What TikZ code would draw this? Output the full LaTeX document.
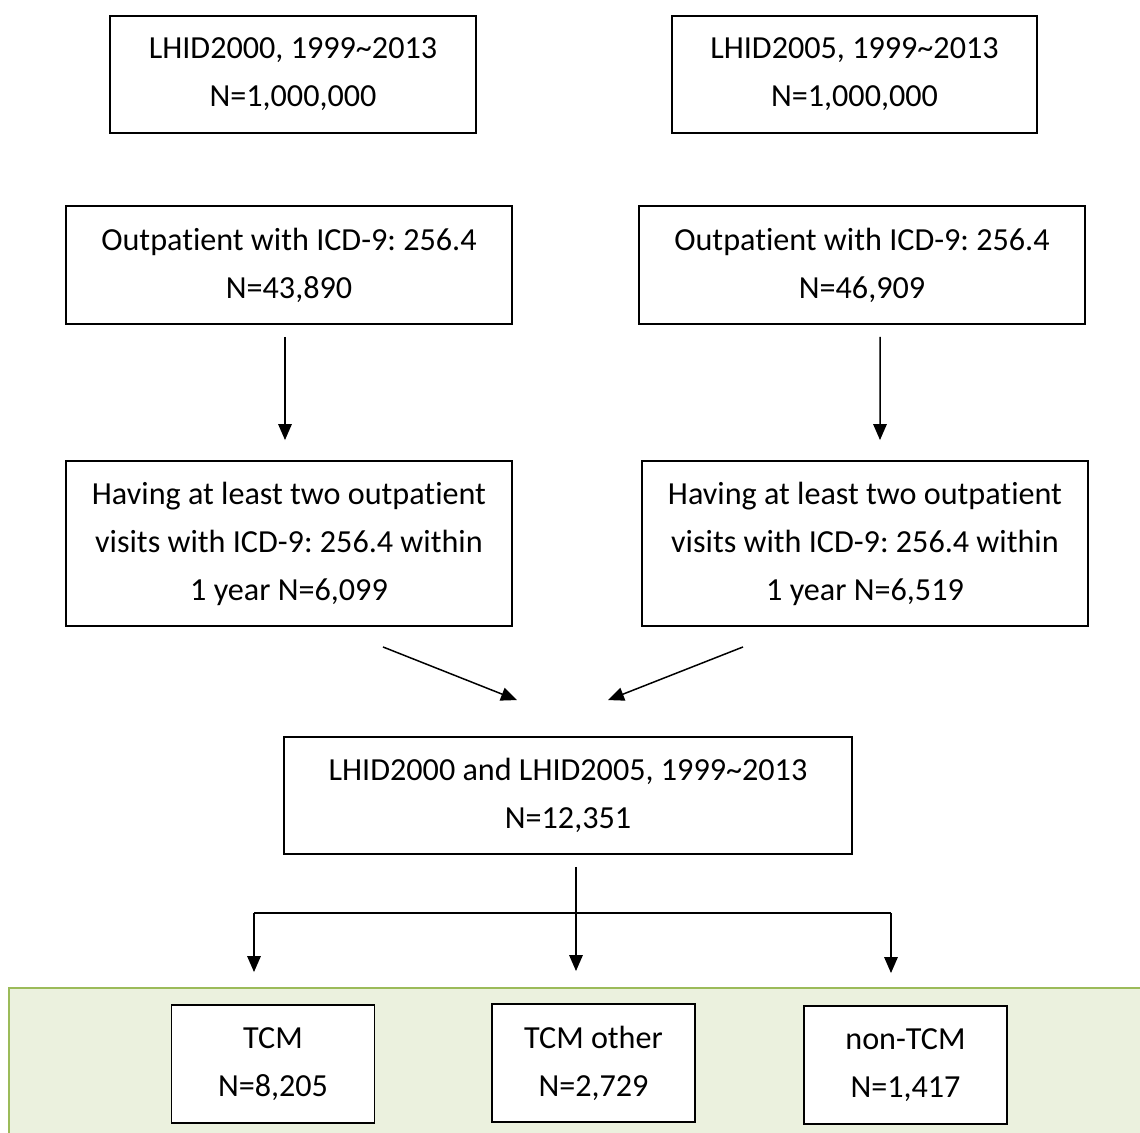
\documentclass[tikz,border=0pt]{standalone}
\usepackage{fontspec}
\setmainfont{Carlito}[Ligatures=NoCommon]
\frenchspacing
\usetikzlibrary{arrows.meta, positioning}
\definecolor{band}{RGB}{235,241,222}
\definecolor{bandline}{RGB}{155,187,89}

\begin{document}
\begin{tikzpicture}[
    x=0.02cm, y=-0.02cm,
    box/.style={
        draw=black, line width=1.1pt, fill=white,
        align=center, inner sep=0pt,
        font=\fontsize{18.3}{27.3}\selectfont
    },
    wide/.style={box, minimum width=8.92cm, minimum height=2.36cm},
    small/.style={box, minimum width=4.06cm, minimum height=2.36cm},
    arr/.style={draw=black, line width=0.85pt,
        -{Triangle[length=0.32cm, width=0.27cm]}}
]

% ---- Page size ----
\useasboundingbox (0,0) rectangle (1140,1133);

% ---- Green band behind the three groups ----
\fill[band, draw=bandline, line width=0.6pt] (9,988) rectangle (1150,1145);

% ---- The two databases ----
\node[box, minimum width=7.32cm, minimum height=2.34cm] (src1) at (293,74.5)
     {LHID2000, 1999\textasciitilde 2013\\N=1,000,000};
\node[box, minimum width=7.30cm, minimum height=2.34cm] (src2) at (854.5,74.5)
     {LHID2005, 1999\textasciitilde 2013\\N=1,000,000};

% ---- Outpatients ----
\node[wide] (opd1) at (289,265) {Outpatient with ICD-9: 256.4\\N=43,890};
\node[wide] (opd2) at (862,265) {Outpatient with ICD-9: 256.4\\N=46,909};

% ---- Two visits within one year ----
\node[wide, minimum height=3.30cm] (two1) at (289,543.5)
     {Having at least two outpatient\\visits with ICD-9: 256.4 within\\1 year N=6,099};
\node[wide, minimum height=3.30cm] (two2) at (865,543.5)
     {Having at least two outpatient\\visits with ICD-9: 256.4 within\\1 year N=6,519};

% ---- Merged cohort ----
\node[box, minimum width=11.36cm, minimum height=2.34cm] (merged) at (568,795.5)
     {LHID2000 and LHID2005, 1999\textasciitilde 2013\\N=12,351};

% ---- The three groups ----
\node[small] (tcm)   at (273,1064)   {TCM\\N=8,205};
\node[small] (other) at (593.5,1063) {TCM other\\N=2,729};
\node[small] (non)   at (905.5,1065) {non-TCM\\N=1,417};

% ---- Arrows ----
\draw[arr, shorten <=0.24cm, shorten >=0.4cm]
    ([xshift=-0.08cm]opd1.south) -- ([xshift=-0.08cm]two1.north);
\draw[arr, shorten <=0.24cm, shorten >=0.4cm]
    ([xshift=0.36cm]opd2.south) -- ([xshift=0.30cm]two2.north);

\draw[arr] ([xshift=1.88cm, yshift=-0.4cm]two1.south)
    -- ([xshift=-1.02cm, yshift=0.72cm]merged.north);
\draw[arr] ([xshift=-2.44cm, yshift=-0.4cm]two2.south)
    -- ([xshift=0.8cm, yshift=0.72cm]merged.north);

% ---- Fork into the three groups ----
\coordinate (fork)  at (576,913);
\coordinate (forkL) at (254,913);
\coordinate (forkR) at (891,913);
\draw[line width=0.85pt] (forkL) -- (forkR);
\draw[arr, shorten <=0.24cm, shorten >=0.64cm] (merged.south -| fork) -- (fork |- other.north);
\draw[arr, shorten >=0.64cm] (forkL) -- (forkL |- tcm.north);
\draw[arr, shorten >=0.64cm] (forkR) -- (forkR |- non.north);

\end{tikzpicture}
\end{document}
